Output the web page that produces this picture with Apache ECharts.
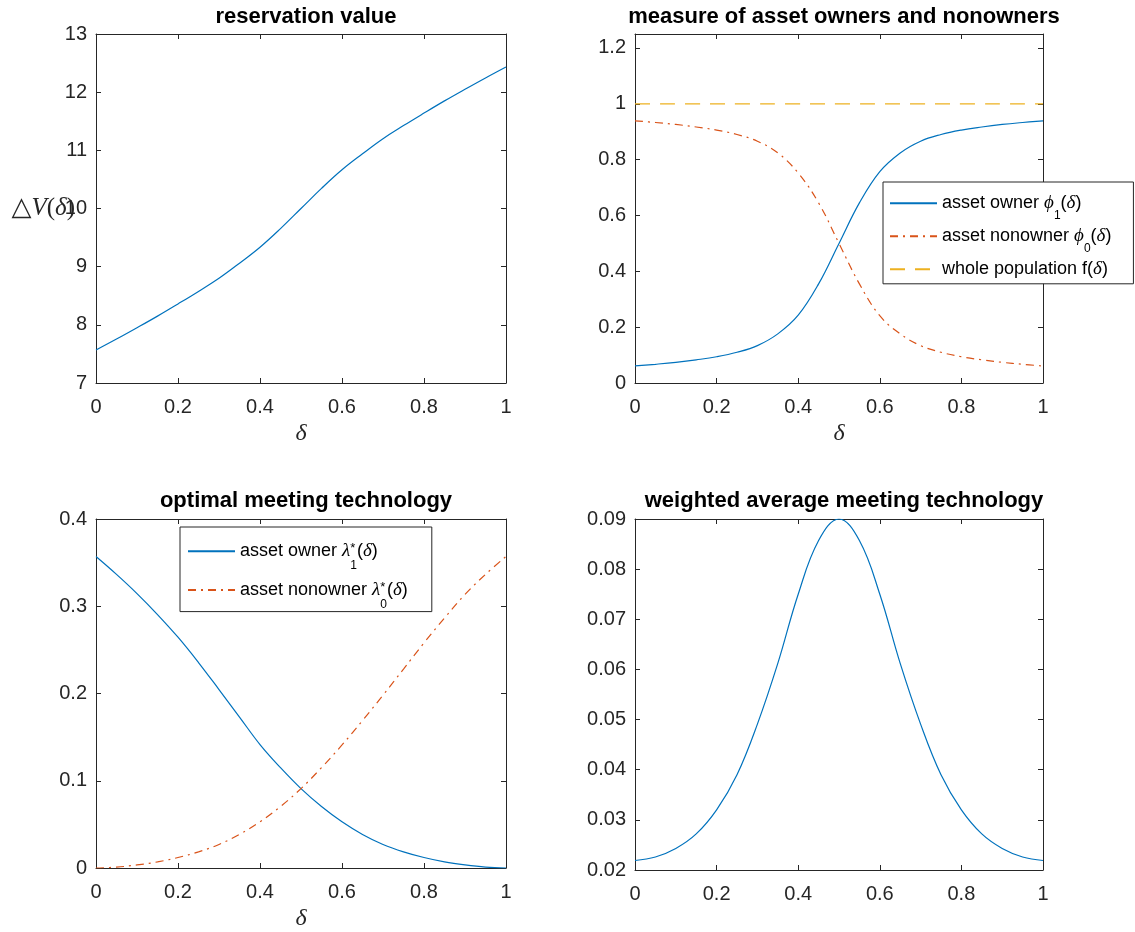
<!DOCTYPE html>
<html><head><meta charset="utf-8">
<script src="https://cdn.jsdelivr.net/npm/echarts@6/dist/echarts.min.js"></script>
<style>html,body{margin:0;padding:0;background:#fff}#c{width:1135px;height:932px}</style>
</head><body><div id="c"></div>
<script>
// ---- data ----
const delta = [0,0.05,0.1,0.15,0.2,0.25,0.3,0.35,0.4,0.45,0.5,0.55,0.6,0.65,0.7,0.75,0.8,0.85,0.9,0.95,1];
const reservationValue = [7.567,7.755,7.95,8.15,8.36,8.575,8.80,9.06,9.335,9.655,10.0,10.345,10.665,10.94,11.20,11.425,11.64,11.85,12.05,12.245,12.433];
const phi1 = [0.061,0.067,0.074,0.083,0.094,0.110,0.134,0.176,0.243,0.355,0.500,0.645,0.757,0.824,0.866,0.890,0.906,0.917,0.926,0.933,0.939];
const phi0 = [0.939,0.933,0.926,0.917,0.906,0.890,0.866,0.824,0.752,0.645,0.500,0.355,0.241,0.176,0.134,0.110,0.094,0.083,0.074,0.067,0.061];
const wholePop = [1,1,1,1,1,1,1,1,1,1,1,1,1,1,1,1,1,1,1,1,1];
const lambda1 = [0.357,0.3365,0.3145,0.2905,0.2645,0.2355,0.2045,0.173,0.1415,0.115,0.091,0.0705,0.053,0.0385,0.027,0.0185,0.012,0.007,0.0035,0.001,0.000];
const lambda0 = [0.000,0.001,0.0035,0.007,0.012,0.0185,0.027,0.0385,0.053,0.0705,0.091,0.115,0.141,0.169,0.198,0.228,0.258,0.2865,0.3135,0.3365,0.357];
const weightedAvg = [0.0219,0.0226,0.0243,0.0272,0.0320,0.0390,0.0491,0.0612,0.0750,0.0857,0.0900,0.0857,0.0750,0.0612,0.0491,0.0390,0.0320,0.0272,0.0243,0.0226,0.0219];
const titles = ['reservation value','measure of asset owners and nonowners','optimal meeting technology','weighted average meeting technology'];
const yRanges = [[7,13,1],[0,1.25,0.2],[0,0.4,0.1],[0.02,0.09,0.01]];

// ---- layout / style ----
const AX = '#262626';
const BLUE = '#0072BD', ORANGE = '#D95319', YELLOW = '#EDB120';
const grids = [
  {left:96, top:34, width:410, height:349},
  {left:635, top:34, width:408, height:349},
  {left:96, top:519, width:410, height:351},
  {left:635, top:519, width:408, height:351}
];
const tickFont = {fontFamily:'Liberation Sans, Arial', fontSize:20, color:AX};
const axLine = {show:true, onZero:false, lineStyle:{color:AX, width:1}};
const axTick = {show:true, inside:true, length:5, lineStyle:{color:AX}};
const xAxes = [], yAxes = [];
grids.forEach((g,i)=>{
  const hasName = i < 3;
  xAxes.push({type:'value', gridIndex:i, position:'bottom', min:0, max:1, interval:0.2,
    axisLine:axLine, axisTick:axTick,
    axisLabel:Object.assign({margin:14}, tickFont),
    splitLine:{show:false},
    name: hasName ? 'δ' : '', nameLocation:'middle', nameGap:39,
    nameTextStyle:{fontFamily:'Liberation Serif, DejaVu Serif', fontStyle:'italic', fontSize:24, color:AX}});
  xAxes.push({type:'value', gridIndex:i, position:'top', min:0, max:1, interval:0.2,
    axisLine:axLine, axisTick:axTick,
    axisLabel:{show:false}, splitLine:{show:false}});
  const r = yRanges[i];
  const ya = {type:'value', gridIndex:i, position:'left', min:r[0], max:r[1], interval:r[2],
    axisLine:axLine, axisTick:axTick,
    axisLabel:Object.assign({margin:9, showMaxLabel: i!==1}, tickFont),
    splitLine:{show:false}};
  if (i === 0) {
    ya.name = '{a|△}{b|V}{c|(}{b|δ}{c|)}';
    ya.nameLocation = 'middle'; ya.nameRotate = 0; ya.nameGap = 21; ya.nameMoveOverlap = false;
    ya.nameTextStyle = {rich:{
      a:{fontFamily:'DejaVu Serif', fontSize:26, color:AX},
      b:{fontFamily:'Liberation Serif, DejaVu Serif', fontStyle:'italic', fontSize:25, color:AX},
      c:{fontFamily:'Liberation Serif, DejaVu Serif', fontSize:25, color:AX}}};
  }
  yAxes.push(ya);
  yAxes.push({type:'value', gridIndex:i, position:'right', min:r[0], max:r[1], interval:r[2],
    axisLine:axLine, axisTick:axTick,
    axisLabel:{show:false}, splitLine:{show:false}});
});
const pts = arr => delta.map((x,k)=>[x, arr[k]]);
function line(name, gi, arr, color, type) {
  return {type:'line', name:name, xAxisIndex:2*gi, yAxisIndex:2*gi, data:pts(arr),
    symbol:'none', showSymbol:false, smooth:0.4,
    lineStyle:{color:color, width:1.2, type:type||'solid'}, itemStyle:{color:color},
    emphasis:{disabled:true}, animation:false, z:3};
}
const DASHDOT = [8,5,2,5], DASH = [15,10];
const legendText = {
  phi1:'{n|asset owner }{g|ϕ}{s|1}{n|(}{g|δ}{n|)}',
  phi0:'{n|asset nonowner }{g|ϕ}{s|0}{n|(}{g|δ}{n|)}',
  fpop:'{n|whole population f(}{g|δ}{n|)}',
  lam1:'{n|asset owner }{g|λ}{st|*}{s|1}{n|(}{g|δ}{n|)}',
  lam0:'{n|asset nonowner }{g|λ}{st|*}{s|0}{n|(}{g|δ}{n|)}'
};
const base = {
  n:{fontFamily:'Liberation Sans, Arial', fontSize:18, color:'#000', lineHeight:19},
  g:{fontFamily:'Liberation Serif, DejaVu Serif', fontStyle:'italic', fontSize:19, color:'#000', lineHeight:19}
};
const rich1 = Object.assign({}, base, {
  s:{fontFamily:'Liberation Sans, Arial', fontSize:12, color:'#000', lineHeight:25, verticalAlign:'bottom', padding:[0,0,-6,0]}
});
const rich2 = Object.assign({}, base, {
  s:{fontFamily:'Liberation Sans, Arial', fontSize:12, color:'#000', lineHeight:28, verticalAlign:'bottom', padding:[0,0,-6.5,0]},
  st:{fontFamily:'Liberation Sans, Arial', fontSize:13, color:'#000', width:0, verticalAlign:'middle', padding:[0,0,5,0]}
});
const legendCommon = {orient:'vertical', itemWidth:47, itemHeight:14, backgroundColor:'#fff',
  borderColor:AX, borderWidth:1, borderRadius:0, selectedMode:false,
  itemStyle:{opacity:0},
  formatter: n => legendText[n]};

const option = {
  backgroundColor:'#fff',
  animation:false,
  title: titles.map((t,i)=>({text:t, left: grids[i].left + grids[i].width/2, top: i<2 ? 1 : 485, textAlign:'center',
    textStyle:{fontFamily:'Liberation Sans, Arial', fontWeight:'bold', fontSize:22, color:'#000'}})),
  grid: grids,
  xAxis: xAxes,
  yAxis: yAxes,
  legend: [
    Object.assign({}, legendCommon, {data:['phi1','phi0','fpop'], left:883, top:182, itemGap:5,
      padding:[11.8,22,5,6], textStyle:{fontFamily:'Liberation Sans, Arial', fontSize:18, color:'#000', rich:rich1}}),
    Object.assign({}, legendCommon, {data:['lam1','lam0'], left:180, top:527, itemGap:8.9,
      padding:[14.7,24,1,7], textStyle:{fontFamily:'Liberation Sans, Arial', fontSize:18, color:'#000', rich:rich2}})
  ],
  series: [
    line('dV', 0, reservationValue, BLUE),
    line('phi1', 1, phi1, BLUE),
    line('phi0', 1, phi0, ORANGE, DASHDOT),
    line('fpop', 1, wholePop, YELLOW, DASH),
    line('lam1', 2, lambda1, BLUE),
    line('lam0', 2, lambda0, ORANGE, DASHDOT),
    line('W', 3, weightedAvg, BLUE)
  ]
};
const chart = echarts.init(document.getElementById('c'), null, {renderer:'canvas'});
chart.setOption(option);
</script></body></html>
